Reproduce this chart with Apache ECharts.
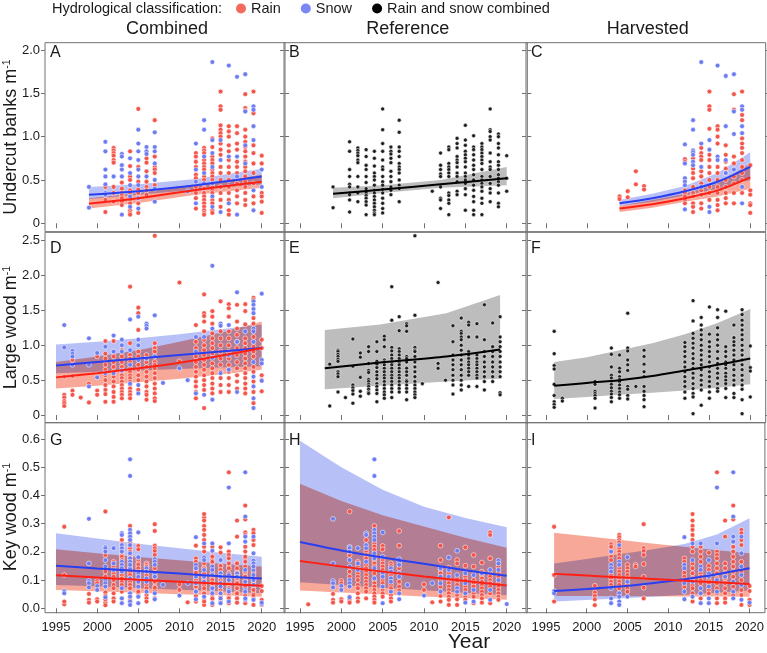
<!DOCTYPE html>
<html>
<head>
<meta charset="utf-8">
<script src="https://cdn.jsdelivr.net/npm/echarts@6/dist/echarts.min.js"></script>
<style>
html, body { margin: 0; padding: 0; background: #fff; }
#chart { width: 767px; height: 653px; }
</style>
</head>
<body>
<div id="chart"></div>
<script>
// tick labels
const yearTicks = [1995, 2000, 2005, 2010, 2015, 2020];
const ubTicks = [0, 0.5, 1, 1.5, 2];
const lwTicks = [0, 0.5, 1, 1.5, 2, 2.5];
const kwTicks = [0, 0.1, 0.2, 0.3, 0.4, 0.5, 0.6];

const colTitles = ['Combined', 'Reference', 'Harvested'];
const rowTitles = ['Undercut banks m', 'Large wood m', 'Key wood m'];
const panelLetters = ['A', 'B', 'C', 'D', 'E', 'F', 'G', 'H', 'I'];

// ---- undercut banks (row 1): [year, [values]] ----
const ubAllRain = [
  [2001, [0.42, 0.27, 0.13]],
  [2002, [0.87, 0.84, 0.81, 0.78, 0.73, 0.70, 0.42, 0.35, 0.25]],
  [2003, [0.47, 0.40, 0.35, 0.32, 0.29, 0.25, 0.21]],
  [2004, [0.83, 0.66, 0.54, 0.50, 0.38, 0.35, 0.27, 0.23, 0.15, 0.12, 0.10]],
  [2005, [1.32, 0.65, 0.48, 0.39, 0.35, 0.23, 0.12]],
  [2006, [0.75, 0.70, 0.60, 0.48, 0.42, 0.38, 0.33]],
  [2007, [1.19, 0.77, 0.65, 0.62, 0.58, 0.44]],
  [2012, [0.81, 0.77, 0.71, 0.65, 0.56, 0.52, 0.42, 0.35, 0.29, 0.17]],
  [2013, [0.87, 0.84, 0.81, 0.73, 0.69, 0.65, 0.62, 0.54, 0.50, 0.40, 0.35, 0.31, 0.27, 0.23, 0.19, 0.15, 0.12, 0.10]],
  [2014, [0.98, 0.88, 0.77, 0.73, 0.69, 0.62, 0.58, 0.54, 0.50, 0.42, 0.38, 0.35, 0.27, 0.23, 0.15, 0.12]],
  [2015, [1.52, 1.35, 1.31, 1.13, 1.08, 1.04, 1.00, 0.92, 0.85, 0.79, 0.65, 0.58, 0.50, 0.42, 0.35, 0.27, 0.19]],
  [2016, [1.12, 1.06, 1.00, 0.90, 0.83, 0.73, 0.65, 0.58, 0.50, 0.42, 0.35, 0.27, 0.15, 0.10]],
  [2017, [1.12, 1.04, 0.92, 0.85, 0.71, 0.65, 0.58, 0.46, 0.38, 0.31, 0.23]],
  [2018, [1.49, 1.33, 1.30, 1.08, 1.00, 0.94, 0.88, 0.83, 0.77, 0.71, 0.65, 0.60, 0.54, 0.48, 0.42, 0.35, 0.27, 0.21]],
  [2019, [1.52, 1.27, 0.90, 0.81, 0.69, 0.58, 0.46, 0.31, 0.23]],
  [2020, [0.78, 0.69, 0.35, 0.31, 0.25, 0.12]]
];
const ubAllSnow = [
  [1999, [0.42, 0.18]],
  [2001, [0.94, 0.83, 0.62, 0.54, 0.45, 0.35, 0.33]],
  [2002, [0.54]],
  [2003, [0.80, 0.77, 0.67, 0.62, 0.54, 0.10]],
  [2004, [0.75, 0.58, 0.44, 0.31, 0.19]],
  [2005, [1.08, 0.92, 0.83, 0.73, 0.62, 0.54, 0.44, 0.29, 0.17]],
  [2006, [0.88, 0.83, 0.80, 0.54]],
  [2007, [1.05, 0.88, 0.83, 0.69, 0.50, 0.40, 0.25]],
  [2011, [0.37]],
  [2012, [0.92, 0.62, 0.48, 0.23]],
  [2013, [1.19, 1.08, 0.77, 0.58, 0.46]],
  [2014, [1.86, 0.96, 0.81, 0.65, 0.46, 0.31, 0.19]],
  [2015, [0.96, 0.73, 0.13]],
  [2016, [1.82, 0.77, 0.23]],
  [2017, [1.69, 0.77, 0.54, 0.10]],
  [2018, [1.72, 1.29, 0.90, 0.69]],
  [2019, [1.35, 1.31, 1.12, 0.96, 0.38, 0.15]],
  [2020, [0.62, 0.42]]
];
const ubRef = [
  [1999, [0.42, 0.18]],
  [2001, [0.94, 0.83, 0.62, 0.54, 0.45, 0.42, 0.35, 0.33, 0.27, 0.13]],
  [2002, [0.87, 0.84, 0.81, 0.78, 0.73, 0.70, 0.54, 0.42, 0.35, 0.25]],
  [2003, [0.85, 0.77, 0.67, 0.62, 0.54, 0.47, 0.40, 0.35, 0.32, 0.29, 0.25, 0.21, 0.10]],
  [2004, [0.83, 0.75, 0.66, 0.58, 0.54, 0.50, 0.44, 0.38, 0.35, 0.31, 0.27, 0.23, 0.19, 0.15, 0.12, 0.10]],
  [2005, [1.32, 1.08, 0.92, 0.83, 0.73, 0.65, 0.62, 0.54, 0.48, 0.44, 0.39, 0.35, 0.29, 0.23, 0.17, 0.12]],
  [2006, [0.88, 0.83, 0.80, 0.75, 0.70, 0.60, 0.54, 0.48, 0.42, 0.38, 0.33]],
  [2007, [1.19, 1.05, 0.88, 0.83, 0.77, 0.69, 0.65, 0.62, 0.58, 0.50, 0.44, 0.40, 0.25]],
  [2011, [0.37]],
  [2012, [0.81, 0.67, 0.62, 0.57, 0.54, 0.44, 0.42, 0.29, 0.27, 0.17]],
  [2013, [0.88, 0.85, 0.69, 0.65, 0.62, 0.58, 0.54, 0.35, 0.32, 0.27, 0.23, 0.10]],
  [2014, [0.98, 0.92, 0.87, 0.77, 0.73, 0.70, 0.65, 0.58, 0.54, 0.48, 0.37, 0.33]],
  [2015, [1.13, 0.96, 0.90, 0.83, 0.79, 0.75, 0.71, 0.65, 0.58, 0.54, 0.50, 0.46, 0.40, 0.33, 0.15]],
  [2016, [1.01, 0.88, 0.85, 0.79, 0.73, 0.67, 0.62, 0.56, 0.50, 0.44, 0.38, 0.31, 0.25, 0.15, 0.10]],
  [2017, [0.92, 0.88, 0.85, 0.81, 0.77, 0.73, 0.69, 0.62, 0.54, 0.50, 0.46, 0.42, 0.37, 0.29, 0.23, 0.10]],
  [2018, [1.32, 1.08, 1.06, 1.00, 0.96, 0.81, 0.71, 0.65, 0.62, 0.54, 0.46, 0.40, 0.35, 0.25]],
  [2019, [1.03, 1.00, 0.92, 0.87, 0.79, 0.71, 0.67, 0.62, 0.56, 0.52, 0.48, 0.44, 0.35, 0.23, 0.19]],
  [2020, [0.78, 0.52, 0.37]]
];
const ubHarvRain = [
  [2004, [0.31, 0.28]],
  [2005, [0.37, 0.30]],
  [2006, [0.60, 0.45]],
  [2007, [0.43, 0.39]],
  [2012, [0.74, 0.71, 0.38, 0.35, 0.31, 0.27, 0.23]],
  [2013, [0.75, 0.63, 0.58, 0.52, 0.42, 0.35, 0.31, 0.23, 0.19, 0.13]],
  [2014, [0.87, 0.81, 0.77, 0.73, 0.60, 0.54, 0.46, 0.38, 0.33, 0.23, 0.17]],
  [2015, [1.52, 1.35, 1.31, 1.09, 0.79, 0.73, 0.65, 0.58, 0.50, 0.42, 0.35, 0.27]],
  [2016, [1.12, 1.08, 1.00, 0.92, 0.65, 0.58, 0.50, 0.42, 0.35, 0.27, 0.21, 0.15]],
  [2017, [0.90, 0.79, 0.71, 0.63, 0.58, 0.50, 0.42, 0.35, 0.29, 0.23]],
  [2018, [1.49, 1.31, 0.77, 0.69, 0.54, 0.46, 0.35, 0.23]],
  [2019, [1.52, 1.25, 1.19, 0.98, 0.92, 0.87, 0.81, 0.73, 0.65, 0.58, 0.50, 0.35]],
  [2020, [0.67, 0.38, 0.33, 0.23, 0.21, 0.12]]
];
const ubHarvSnow = [
  [2012, [0.91, 0.69, 0.52, 0.48, 0.44, 0.16]],
  [2013, [1.19, 1.08, 0.84, 0.82, 0.79, 0.71, 0.67]],
  [2014, [1.86, 0.92, 0.65, 0.42]],
  [2015, [0.96, 0.85, 0.19, 0.13]],
  [2016, [1.82, 0.77, 0.73]],
  [2017, [1.70, 1.12, 0.73, 0.58]],
  [2018, [1.72, 1.29, 1.03, 0.62]],
  [2019, [1.35, 1.31, 1.12, 1.04, 0.42, 0.23]]
];

// ---- large wood (row 2) ----
const lwAllRain = [
  [1996, [0.55, 0.29, 0.25, 0.20, 0.17, 0.13]],
  [1997, [0.79, 0.56, 0.35, 0.29]],
  [1998, [0.25]],
  [1999, [0.45, 0.18]],
  [2000, [0.84, 0.35, 0.29]],
  [2001, [1.06, 0.88, 0.81, 0.72, 0.65, 0.57, 0.50, 0.43, 0.36, 0.30, 0.19]],
  [2002, [1.06, 0.84, 0.76, 0.69, 0.62, 0.55, 0.48, 0.41, 0.33, 0.26, 0.19]],
  [2003, [0.93, 0.84, 0.76, 0.69, 0.62, 0.57, 0.53, 0.48, 0.43, 0.38, 0.33, 0.29, 0.24]],
  [2004, [1.84, 1.03, 0.86, 0.81, 0.76, 0.67, 0.62, 0.57, 0.53, 0.48, 0.43, 0.38, 0.33, 0.29, 0.24]],
  [2005, [1.54, 1.46, 1.22, 0.91, 0.84, 0.72, 0.65, 0.57, 0.50, 0.36]],
  [2006, [0.86, 0.76, 0.69, 0.62, 0.55, 0.48, 0.41, 0.33, 0.29, 0.22]],
  [2007, [2.57, 1.03, 0.96, 0.91, 0.76, 0.72, 0.67, 0.60, 0.53, 0.45, 0.38, 0.31, 0.24, 0.20]],
  [2010, [1.90, 0.77]],
  [2012, [1.29, 1.05, 0.96, 0.84, 0.76, 0.69, 0.62, 0.55, 0.48, 0.41, 0.33, 0.24]],
  [2013, [1.73, 1.46, 1.42, 1.34, 1.20, 1.08, 1.00, 0.93, 0.86, 0.79, 0.72, 0.65, 0.57, 0.50, 0.43, 0.36, 0.10]],
  [2014, [1.49, 1.41, 1.31, 1.17, 1.10, 1.03, 0.96, 0.88, 0.74, 0.67, 0.60, 0.53, 0.45, 0.38, 0.31]],
  [2015, [1.63, 1.20, 1.10, 1.00, 0.91, 0.81, 0.72, 0.62, 0.53, 0.43, 0.33]],
  [2016, [1.59, 1.53, 1.41, 1.20, 1.10, 1.00, 0.91, 0.81, 0.72, 0.62, 0.53, 0.43, 0.33]],
  [2017, [1.58, 1.34, 1.24, 1.15, 1.05, 0.96, 0.86, 0.76, 0.67, 0.57, 0.48, 0.38]],
  [2018, [1.59, 1.49, 1.30, 1.10, 1.03, 0.96, 0.88, 0.81, 0.74, 0.67, 0.60, 0.53, 0.45, 0.38, 0.31]],
  [2019, [1.68, 1.65, 1.39, 1.31, 1.12, 0.98, 0.91, 0.84, 0.69, 0.62, 0.48, 0.33, 0.17]],
  [2020, [1.08, 0.96, 0.57, 0.50, 0.34]]
];
const lwAllSnow = [
  [1996, [1.29, 0.97]],
  [1997, [0.92, 0.88, 0.84, 0.72]],
  [1999, [1.10, 0.72, 0.41]],
  [2000, [0.89, 0.54]],
  [2001, [0.98, 0.60]],
  [2002, [1.14, 0.91, 0.60]],
  [2003, [1.08, 1.00, 0.91, 0.64]],
  [2004, [1.37, 0.93, 0.72, 0.45]],
  [2005, [1.41, 1.08, 1.00, 0.79, 0.43, 0.31]],
  [2006, [1.31, 1.28, 1.24, 0.81]],
  [2007, [1.43, 0.84]],
  [2008, [0.46]],
  [2010, [0.67]],
  [2011, [0.50]],
  [2012, [1.12, 0.91, 0.31]],
  [2013, [1.12, 0.29]],
  [2014, [2.14, 1.24, 0.82, 0.22]],
  [2015, [1.31, 1.28, 0.60]],
  [2016, [1.29, 0.86, 0.65]],
  [2017, [1.76, 1.05, 0.33]],
  [2018, [1.20]],
  [2019, [1.63, 1.58, 1.52, 1.46, 1.24, 1.20, 1.05, 0.76, 0.55, 0.41, 0.24, 0.10]],
  [2020, [1.74, 0.79, 0.74, 0.49]]
];
const lwRef = [
  [1998.6, [0.73, 0.13]],
  [1999.6, [0.93, 0.91, 0.87, 0.84, 0.80, 0.77, 0.62, 0.59, 0.55, 0.33]],
  [2000.5, [0.25]],
  [2001.4, [1.09, 0.70, 0.43, 0.39, 0.35, 0.30, 0.17]],
  [2002.3, [0.89, 0.83, 0.54, 0.34, 0.27]],
  [2003.3, [0.98, 0.91, 0.74, 0.64, 0.61, 0.51, 0.48, 0.44, 0.41, 0.37, 0.33, 0.31]],
  [2004.3, [1.05, 0.91, 0.77, 0.73, 0.68, 0.62, 0.57, 0.52, 0.45, 0.41, 0.36, 0.31, 0.19]],
  [2005.2, [1.13, 1.08, 0.98, 0.79, 0.76, 0.72, 0.67, 0.62, 0.57, 0.53, 0.48, 0.43, 0.38, 0.33, 0.29, 0.24]],
  [2006.1, [1.84, 1.36, 0.97, 0.92, 0.86, 0.81, 0.76, 0.72, 0.67, 0.62, 0.57, 0.53, 0.48, 0.43, 0.38, 0.33, 0.25]],
  [2007.0, [1.41, 1.21, 0.95, 0.91, 0.86, 0.81, 0.76, 0.72, 0.67, 0.62, 0.57, 0.53, 0.48, 0.43, 0.38, 0.33]],
  [2007.9, [1.31, 1.28, 1.20, 0.84, 0.81, 0.76, 0.67, 0.62, 0.57, 0.50, 0.48, 0.43, 0.38, 0.33, 0.22]],
  [2008.9, [2.57, 1.43, 0.97, 0.93, 0.91, 0.84, 0.76, 0.69, 0.62, 0.55, 0.48, 0.43, 0.38, 0.33, 0.29, 0.25]],
  [2009.8, [0.45]],
  [2011.7, [1.90, 0.74, 0.67]],
  [2012.6, [0.50]],
  [2013.5, [1.28, 1.05, 0.86, 0.79, 0.72, 0.65, 0.57, 0.50, 0.43, 0.30]],
  [2014.5, [1.39, 1.20, 1.17, 1.12, 1.08, 1.00, 0.93, 0.86, 0.79, 0.72, 0.65, 0.57, 0.50, 0.43, 0.36]],
  [2015.4, [1.33, 1.29, 1.12, 0.91, 0.86, 0.81, 0.76, 0.72, 0.67, 0.62, 0.57, 0.41]],
  [2016.4, [1.31, 1.12, 0.86, 0.81, 0.76, 0.72, 0.67, 0.62, 0.57, 0.53, 0.41]],
  [2017.3, [1.58, 1.08, 0.91, 0.84, 0.76, 0.69, 0.62, 0.55, 0.48, 0.36]],
  [2018.3, [1.32, 0.98, 0.91, 0.84, 0.76, 0.69, 0.62, 0.55, 0.48]],
  [2019.2, [1.41, 1.12, 1.05, 0.98, 0.91, 0.84, 0.76, 0.69, 0.62, 0.55, 0.32, 0.29]]
];
const lwHarv = [
  [1996, [1.20, 0.88, 0.71, 0.66, 0.44, 0.28, 0.19, 0.15, 0.11]],
  [1997, [0.24, 0.20]],
  [2001, [0.48, 0.44, 0.34, 0.31, 0.28, 0.24, 0.10]],
  [2003, [0.96, 0.87, 0.69, 0.57, 0.53, 0.48, 0.44, 0.39, 0.34, 0.30, 0.25, 0.19]],
  [2004, [0.86, 0.67, 0.62, 0.55, 0.51, 0.48, 0.43, 0.38, 0.33, 0.29, 0.24]],
  [2005, [1.46, 0.96, 0.92, 0.79, 0.72, 0.64, 0.41, 0.37, 0.28, 0.23]],
  [2006, [0.41]],
  [2007, [0.93, 0.84, 0.73, 0.62, 0.55, 0.41, 0.34, 0.28, 0.22, 0.12]],
  [2012, [1.04, 0.98, 0.91, 0.84, 0.76, 0.69, 0.62, 0.55, 0.48, 0.41, 0.33, 0.24]],
  [2013, [1.64, 1.35, 1.17, 1.10, 1.03, 0.96, 0.88, 0.81, 0.74, 0.67, 0.60, 0.53, 0.45, 0.38, 0.31, 0.26, 0.02]],
  [2014, [1.40, 1.29, 1.22, 1.15, 1.08, 1.00, 0.93, 0.86, 0.79, 0.72, 0.65, 0.57, 0.50, 0.43, 0.36, 0.14]],
  [2015, [1.55, 1.16, 1.05, 0.98, 0.91, 0.84, 0.76, 0.69, 0.62, 0.55, 0.48, 0.41, 0.33, 0.24]],
  [2016, [1.51, 1.40, 1.25, 1.15, 1.08, 1.00, 0.91, 0.81, 0.74, 0.67, 0.60, 0.53, 0.45, 0.38, 0.34]],
  [2017, [1.49, 0.98, 0.91, 0.84, 0.76, 0.72, 0.67, 0.60, 0.55, 0.50, 0.45, 0.38, 0.25]],
  [2018, [1.29, 1.11, 1.05, 1.00, 0.93, 0.86, 0.79, 0.72, 0.65, 0.57, 0.50, 0.43, 0.31, 0.25]],
  [2019, [1.51, 1.44, 1.36, 1.29, 1.22, 1.15, 1.08, 1.00, 0.93, 0.86, 0.79, 0.72, 0.65, 0.57, 0.50, 0.43, 0.37, 0.22, 0.02]],
  [2020, [0.99, 0.68, 0.63, 0.26]]
];

// ---- key wood (row 3) ----
const kwRefRain = [
  [1996, [0.014]],
  [1999, [0.051, 0.030, 0.020]],
  [2000, [0.097, 0.089, 0.032, 0.024]],
  [2001, [0.343, 0.189, 0.130, 0.112, 0.041, 0.030, 0.020]],
  [2002, [0.165, 0.148, 0.124, 0.112, 0.100, 0.083, 0.071, 0.053, 0.035, 0.024]],
  [2003, [0.242, 0.201, 0.189, 0.177, 0.154, 0.142, 0.130, 0.118, 0.106, 0.094, 0.083, 0.071, 0.059, 0.035]],
  [2004, [0.292, 0.230, 0.219, 0.207, 0.183, 0.171, 0.159, 0.148, 0.136, 0.124, 0.100, 0.089, 0.077, 0.065, 0.053, 0.041, 0.030, 0.020]],
  [2005, [0.221, 0.209, 0.171, 0.159, 0.148, 0.136, 0.100, 0.089, 0.065, 0.053, 0.041]],
  [2006, [0.159, 0.150, 0.118, 0.083, 0.071, 0.047, 0.035, 0.024]],
  [2007, [0.274, 0.222, 0.142, 0.094, 0.077, 0.063]],
  [2010, [0.085, 0.065]],
  [2011, [0.021]],
  [2012, [0.222, 0.171, 0.136, 0.124, 0.100, 0.077, 0.044, 0.024]],
  [2013, [0.322, 0.144, 0.124, 0.100, 0.089, 0.077, 0.065, 0.053, 0.041, 0.030, 0.012]],
  [2014, [0.171, 0.159, 0.106, 0.094, 0.083, 0.047, 0.032, 0.012]],
  [2015, [0.216, 0.151, 0.112, 0.100, 0.077, 0.065, 0.041, 0.030]],
  [2016, [0.189, 0.148, 0.100, 0.089, 0.077, 0.053, 0.041, 0.018]],
  [2017, [0.162, 0.130, 0.118, 0.106, 0.094, 0.083, 0.071, 0.059, 0.047, 0.035, 0.020]],
  [2018, [0.269, 0.260, 0.177, 0.124, 0.112, 0.100, 0.089, 0.077, 0.053, 0.018]],
  [2019, [0.148, 0.124, 0.112, 0.089, 0.077, 0.065, 0.053, 0.041, 0.030]]
];
const kwRefSnow = [
  [1999, [0.317, 0.159, 0.097, 0.089, 0.074]],
  [2000, [0.079, 0.065]],
  [2001, [0.218, 0.213, 0.201, 0.171, 0.148, 0.100, 0.089, 0.077, 0.039]],
  [2002, [0.213, 0.159, 0.136]],
  [2003, [0.266, 0.260, 0.224, 0.213, 0.165]],
  [2004, [0.528, 0.469, 0.278, 0.266, 0.254, 0.242, 0.195, 0.177, 0.142, 0.106]],
  [2005, [0.269, 0.183, 0.124, 0.112, 0.077, 0.018]],
  [2006, [0.142, 0.130, 0.106, 0.094, 0.059]],
  [2007, [0.174, 0.165, 0.154, 0.124, 0.112, 0.053, 0.032]],
  [2008, [0.083]],
  [2010, [0.045]],
  [2011, [0.089]],
  [2012, [0.142, 0.112, 0.089, 0.059]],
  [2013, [0.180, 0.136, 0.112]],
  [2014, [0.204, 0.118, 0.071, 0.059]],
  [2015, [0.124, 0.089, 0.053, 0.020]],
  [2016, [0.118, 0.065, 0.024]],
  [2017, [0.124]],
  [2018, [0.136, 0.065, 0.030]],
  [2019, [0.169, 0.159, 0.136, 0.100]],
  [2020, [0.015]]
];
const kwHarvRain = [
  [1996, [0.289, 0.118, 0.024]],
  [2001, [0.080, 0.056, 0.044, 0.032, 0.011]],
  [2003, [0.227, 0.218, 0.183, 0.171, 0.118, 0.106, 0.094, 0.083]],
  [2004, [0.260, 0.252, 0.242, 0.234, 0.213, 0.201, 0.189, 0.177, 0.142, 0.130, 0.118, 0.106, 0.094, 0.083, 0.071]],
  [2005, [0.154, 0.142, 0.130, 0.118, 0.106, 0.083, 0.071, 0.059]],
  [2006, [0.154, 0.148]],
  [2007, [0.298, 0.213, 0.203, 0.189, 0.157, 0.112, 0.073, 0.035]],
  [2012, [0.177, 0.165, 0.126, 0.112, 0.100, 0.077]],
  [2013, [0.334, 0.311, 0.292, 0.278, 0.260, 0.242, 0.218, 0.201, 0.159, 0.142, 0.124, 0.106, 0.083, 0.071, 0.053, 0.024]],
  [2014, [0.218, 0.201, 0.183, 0.165, 0.124, 0.112, 0.100, 0.089, 0.035]],
  [2015, [0.197, 0.150, 0.136, 0.100, 0.089, 0.065, 0.053]],
  [2016, [0.482, 0.201, 0.189, 0.177, 0.159, 0.142, 0.124, 0.106, 0.089, 0.071, 0.053, 0.035, 0.018]],
  [2017, [0.311, 0.254, 0.159, 0.142, 0.124, 0.106, 0.089, 0.071, 0.053, 0.035, 0.020]],
  [2018, [0.364, 0.315, 0.218, 0.201, 0.183, 0.165, 0.148, 0.130, 0.112, 0.077, 0.047]],
  [2019, [0.278, 0.266, 0.242, 0.224, 0.165, 0.130, 0.100, 0.065, 0.047, 0.012]],
  [2020, [0.079, 0.061, 0.030, 0.012]]
];
const kwHarvSnow = [
  [1996, [0.061, 0.053]],
  [2003, [0.201, 0.154, 0.142, 0.130, 0.071, 0.035, 0.018]],
  [2004, [0.224, 0.165, 0.154, 0.053, 0.041, 0.024, 0.012]],
  [2005, [0.181, 0.094, 0.041]],
  [2012, [0.252, 0.154, 0.142, 0.089, 0.059, 0.032]],
  [2013, [0.230, 0.171, 0.094, 0.041]],
  [2014, [0.230, 0.148, 0.136, 0.071, 0.053, 0.018]],
  [2015, [0.171, 0.124, 0.112, 0.077, 0.035, 0.018]],
  [2016, [0.428, 0.230, 0.100, 0.059]],
  [2017, [0.112]],
  [2018, [0.482, 0.325, 0.254, 0.236, 0.094, 0.059, 0.035]],
  [2019, [0.254, 0.195, 0.148, 0.118, 0.083, 0.030]],
  [2020, [0.020]]
];

// ---- fitted trends: [year, lower, fit, upper] ----
const fitARain = [[1999, 0.17, 0.227, 0.29], [2005, 0.235, 0.29, 0.35], [2012, 0.33, 0.385, 0.44], [2020, 0.41, 0.48, 0.56]];
const fitASnow = [[1999, 0.28, 0.33, 0.42], [2005, 0.33, 0.37, 0.45], [2012, 0.39, 0.44, 0.51], [2020, 0.45, 0.54, 0.63]];
const fitB = [[1999, 0.29, 0.34, 0.41], [2005, 0.35, 0.39, 0.44], [2012, 0.41, 0.45, 0.50], [2020, 0.44, 0.52, 0.65]];
const fitCRain = [[2004, 0.13, 0.17, 0.20], [2008, 0.18, 0.22, 0.27], [2012, 0.25, 0.29, 0.34], [2016, 0.31, 0.38, 0.46], [2020, 0.40, 0.53, 0.69]];
const fitCSnow = [[2004, 0.20, 0.23, 0.27], [2008, 0.25, 0.29, 0.34], [2012, 0.32, 0.37, 0.43], [2016, 0.40, 0.48, 0.58], [2020, 0.50, 0.65, 0.82]];
const fitDRain = [[1995, 0.38, 0.54, 0.76], [2000, 0.42, 0.60, 0.84], [2005, 0.47, 0.67, 0.93], [2010, 0.52, 0.75, 1.05], [2015, 0.58, 0.85, 1.18], [2020, 0.65, 0.96, 1.34]];
const fitDSnow = [[1995, 0.60, 0.71, 1.01], [2000, 0.62, 0.76, 1.05], [2005, 0.64, 0.81, 1.10], [2010, 0.66, 0.86, 1.16], [2015, 0.68, 0.91, 1.23], [2020, 0.70, 0.96, 1.30]];
const fitE = [[1998.0, 0.37, 0.67, 1.22], [2004.7, 0.42, 0.755, 1.30], [2012.7, 0.48, 0.84, 1.46], [2019.2, 0.52, 0.94, 1.72]];
const fitF = [[1996, 0.23, 0.42, 0.76], [2000, 0.26, 0.46, 0.83], [2004, 0.29, 0.50, 0.93], [2008, 0.32, 0.56, 1.03], [2012, 0.35, 0.64, 1.16], [2016, 0.39, 0.72, 1.32], [2020, 0.44, 0.81, 1.52]];
const fitGRain = [[1995, 0.065, 0.117, 0.209], [2000, 0.060, 0.109, 0.195], [2005, 0.055, 0.101, 0.182], [2010, 0.050, 0.094, 0.170], [2015, 0.046, 0.087, 0.158], [2020, 0.041, 0.080, 0.148]];
const fitGSnow = [[1995, 0.083, 0.151, 0.266], [2000, 0.078, 0.141, 0.247], [2005, 0.072, 0.132, 0.229], [2010, 0.066, 0.123, 0.213], [2015, 0.060, 0.114, 0.197], [2020, 0.053, 0.106, 0.183]];
const fitHRain = [[1995, 0.063, 0.168, 0.441], [2000, 0.056, 0.148, 0.380], [2005, 0.049, 0.130, 0.330], [2010, 0.042, 0.113, 0.290], [2015, 0.036, 0.097, 0.250], [2020, 0.030, 0.081, 0.215]];
const fitHSnow = [[1995, 0.092, 0.235, 0.594], [2000, 0.083, 0.205, 0.500], [2005, 0.073, 0.180, 0.420], [2010, 0.064, 0.158, 0.360], [2015, 0.055, 0.135, 0.320], [2020, 0.046, 0.115, 0.287]];
const fitIRain = [[1996, 0.044, 0.122, 0.268], [2000, 0.044, 0.116, 0.255], [2004, 0.043, 0.110, 0.243], [2008, 0.043, 0.104, 0.230], [2012, 0.042, 0.098, 0.218], [2016, 0.042, 0.092, 0.206], [2020, 0.041, 0.086, 0.195]];
const fitISnow = [[1996, 0.024, 0.061, 0.159], [2000, 0.029, 0.068, 0.175], [2004, 0.035, 0.077, 0.192], [2008, 0.041, 0.089, 0.208], [2012, 0.048, 0.103, 0.228], [2016, 0.055, 0.121, 0.262], [2020, 0.063, 0.142, 0.319]];

const FONT = 'Liberation Sans, Arial, sans-serif';
const TEXT = '#1a1a1a';
const FRAME = '#707070';
const RAIN = '#f4554a', SNOW = '#6d7cf2', BLACK = '#1e1e1e';
const RAIN_LINE = '#ff2015', SNOW_LINE = '#2a3ef2';
const RAIN_BAND = '#f8a898', SNOW_BAND = '#b8c0f8', GREY_BAND = '#bdbdbd';

const cols = [
  { left: 45, width: 240, min: 1993.66, max: 2022.83 },
  { left: 284, width: 243.3, min: 1993.07, max: 2022.49 },
  { left: 526, width: 239.7, min: 1992.55, max: 2021.89 }
];
const fmt1 = v => (v === 0 ? '0' : v.toFixed(1));
const rows = [
  { top: 42.7, height: 189, min: -0.097, max: 2.084, ticks: ubTicks, fmt: fmt1, mid: 137 },
  { top: 232.3, height: 190.4, min: -0.110, max: 2.6205, ticks: lwTicks, fmt: fmt1, mid: 327.5 },
  { top: 422.7, height: 190, min: -0.0156, max: 0.6578, ticks: kwTicks, fmt: v => v.toFixed(1), mid: 517 }
];
const letterTops = [52.5, 249, 441];

function pts(groups) {
  const out = [];
  groups.forEach(([x, vs]) => vs.forEach(v => out.push([x, v])));
  return out;
}

const grid = [], xAxis = [], yAxis = [], series = [];
rows.forEach((r, ri) => cols.forEach((c, ci) => {
  const g = ri * 3 + ci;
  grid.push({ left: c.left, top: r.top, width: c.width, height: r.height, show: true,
    borderColor: FRAME, borderWidth: 1, backgroundColor: 'transparent' });
  xAxis.push({
    type: 'value', gridIndex: g, min: c.min, max: c.max,
    splitLine: { show: false }, axisLine: { show: false },
    axisTick: { show: true, length: 5, lineStyle: { color: FRAME }, customValues: yearTicks },
    axisLabel: { show: ri === 2, customValues: yearTicks, formatter: v => String(v),
      fontSize: 13, color: TEXT, fontFamily: FONT, margin: 8 }
  });
  yAxis.push({
    type: 'value', gridIndex: g, min: r.min, max: r.max,
    splitLine: { show: false }, axisLine: { show: false },
    axisTick: { show: true, length: 4, lineStyle: { color: FRAME }, customValues: r.ticks },
    axisLabel: { show: ci === 0, customValues: r.ticks, formatter: r.fmt,
      fontSize: 13, color: TEXT, fontFamily: FONT, margin: 5 }
  });
  yAxis.push({
    type: 'value', gridIndex: g, position: 'right', min: r.min, max: r.max,
    splitLine: { show: false }, axisLine: { show: false },
    axisTick: { show: true, length: 4, lineStyle: { color: FRAME }, customValues: r.ticks },
    axisLabel: { show: false }
  });
}));

function scatter(g, name, groups, color, size) {
  series.push({
    type: 'scatter', name, xAxisIndex: g, yAxisIndex: 2 * g, z: 3,
    data: pts(groups), symbolSize: size || 4.8, silent: true,
    itemStyle: { color, borderColor: 'rgba(255,255,255,0.9)', borderWidth: 0.6, opacity: 1 }
  });
}
function band(g, fit, color, blend) {
  series.push({
    type: 'custom', name: 'band', xAxisIndex: g, yAxisIndex: 2 * g, z: 2, silent: true, clip: true,
    blendMode: blend ? 'multiply' : 'source-over',
    data: fit.map(f => [f[0], f[1], f[3]]),
    encode: { x: 0, y: [1, 2] },
    renderItem: (params, api) => {
      if (params.dataIndex !== 0) return;
      const top = fit.map(f => api.coord([f[0], f[3]]));
      const bot = fit.map(f => api.coord([f[0], f[1]])).reverse();
      return { type: 'polygon', shape: { points: top.concat(bot) }, style: { fill: color } };
    }
  });
}
function trend(g, fit, color) {
  series.push({
    type: 'line', name: 'trend', xAxisIndex: g, yAxisIndex: 2 * g, z: 4, silent: true,
    data: fit.map(f => [f[0], f[2]]), showSymbol: false, smooth: 0.3,
    lineStyle: { color, width: 2 }
  });
}

// row 1
band(0, fitASnow, SNOW_BAND, true); band(0, fitARain, RAIN_BAND, true);
scatter(0, 'Rain', ubAllRain, RAIN); scatter(0, 'Snow', ubAllSnow, SNOW);
trend(0, fitASnow, SNOW_LINE); trend(0, fitARain, RAIN_LINE);
band(1, fitB, GREY_BAND, false);
scatter(1, 'Rain and snow combined', ubRef, BLACK, 4);
trend(1, fitB, '#000');
band(2, fitCSnow, SNOW_BAND, true); band(2, fitCRain, RAIN_BAND, true);
scatter(2, 'Rain', ubHarvRain, RAIN); scatter(2, 'Snow', ubHarvSnow, SNOW);
trend(2, fitCSnow, SNOW_LINE); trend(2, fitCRain, RAIN_LINE);
// row 2
band(3, fitDSnow, SNOW_BAND, true); band(3, fitDRain, RAIN_BAND, true);
scatter(3, 'Rain', lwAllRain, RAIN); scatter(3, 'Snow', lwAllSnow, SNOW);
trend(3, fitDSnow, SNOW_LINE); trend(3, fitDRain, RAIN_LINE);
band(4, fitE, GREY_BAND, false);
scatter(4, 'Rain and snow combined', lwRef, BLACK, 4);
trend(4, fitE, '#000');
band(5, fitF, GREY_BAND, false);
scatter(5, 'Rain and snow combined', lwHarv, BLACK, 4);
trend(5, fitF, '#000');
// row 3
band(6, fitGSnow, SNOW_BAND, true); band(6, fitGRain, RAIN_BAND, true);
scatter(6, 'Rain', kwRefRain.concat(kwHarvRain), RAIN); scatter(6, 'Snow', kwRefSnow.concat(kwHarvSnow), SNOW);
trend(6, fitGSnow, SNOW_LINE); trend(6, fitGRain, RAIN_LINE);
band(7, fitHSnow, SNOW_BAND, true); band(7, fitHRain, RAIN_BAND, true);
scatter(7, 'Rain', kwRefRain, RAIN); scatter(7, 'Snow', kwRefSnow, SNOW);
trend(7, fitHSnow, SNOW_LINE); trend(7, fitHRain, RAIN_LINE);
band(8, fitISnow, SNOW_BAND, true); band(8, fitIRain, RAIN_BAND, true);
scatter(8, 'Rain', kwHarvRain, RAIN); scatter(8, 'Snow', kwHarvSnow, SNOW);
trend(8, fitISnow, SNOW_LINE); trend(8, fitIRain, RAIN_LINE);

const graphic = [
  { type: 'text', x: 52, y: 9, style: { text: 'Hydrological classification:', fontSize: 14.5, fontFamily: FONT, fill: TEXT, verticalAlign: 'middle' } }
];
colTitles.forEach((t, i) => graphic.push({
  type: 'text', x: cols[i].left + cols[i].width / 2 + 2, y: 29,
  style: { text: t, fontSize: 18, fontFamily: FONT, fill: TEXT, align: 'center', verticalAlign: 'middle' }
}));
rowTitles.forEach((t, i) => graphic.push({
  type: 'text', x: 11, y: rows[i].mid, rotation: Math.PI / 2,
  style: { text: '{a|' + t + '}{s|-1}', align: 'center', verticalAlign: 'middle', fill: TEXT,
    rich: { a: { fontSize: 18, fontFamily: FONT, fill: TEXT }, s: { fontSize: 10.5, fontFamily: FONT, fill: TEXT, verticalAlign: 'top' } } }
}));
panelLetters.forEach((t, k) => graphic.push({
  type: 'text', x: cols[k % 3].left + 5, y: letterTops[Math.floor(k / 3)],
  style: { text: t, fontSize: 16, fontFamily: FONT, fill: TEXT, verticalAlign: 'middle' }
}));
graphic.push({ type: 'text', x: 469, y: 642,
  style: { text: 'Year', fontSize: 21, fontFamily: FONT, fill: TEXT, align: 'center', verticalAlign: 'middle' } });

const chart = echarts.init(document.getElementById('chart'), null, { renderer: 'canvas' });
chart.setOption({
  animation: false,
  backgroundColor: '#fff',
  legend: {
    left: 236, top: 1, padding: 0, itemWidth: 10, itemHeight: 10, itemGap: 20, icon: 'circle',
    selectedMode: false,
    textStyle: { fontSize: 14.5, fontFamily: FONT, color: TEXT },
    data: [
      { name: 'Rain', itemStyle: { color: '#f66a5e', borderWidth: 0 } },
      { name: 'Snow', itemStyle: { color: '#7a88f4', borderWidth: 0 } },
      { name: 'Rain and snow combined', itemStyle: { color: '#000', borderWidth: 0 } }
    ]
  },
  grid, xAxis, yAxis, series, graphic
});
</script>
</body>
</html>
